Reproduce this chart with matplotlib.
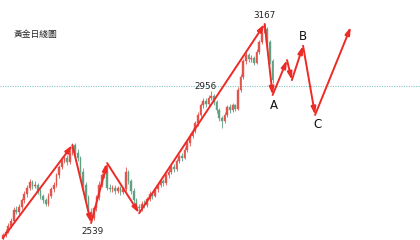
import matplotlib
matplotlib.use("Agg")
import matplotlib.pyplot as plt
from matplotlib.patches import Rectangle

# ── Data: daily candles (index 0..101) ───────────────────────────────────────
opens = [2490, 2500, 2512, 2530, 2545, 2580, 2575, 2590, 2610, 2630,
         2650, 2668, 2655, 2660, 2640, 2625, 2610, 2600, 2625, 2645,
         2660, 2690, 2715, 2735, 2745, 2730, 2760, 2785, 2760, 2745,
         2700, 2660, 2620, 2575, 2555, 2585, 2620, 2660, 2690, 2712,
         2650, 2645, 2650, 2640, 2648, 2638, 2645, 2700, 2670, 2640,
         2610, 2590, 2585, 2600, 2595, 2615, 2630, 2625, 2645, 2660,
         2670, 2665, 2690, 2700, 2715, 2710, 2735, 2750, 2745, 2770,
         2790, 2815, 2830, 2855, 2880, 2910, 2925, 2915, 2935, 2940,
         2920, 2895, 2870, 2860, 2880, 2905, 2895, 2910, 2900, 2960,
         3000, 3050, 3070, 3055, 3060, 3045, 3080, 3110, 3140, 3150,
         3110, 3050]
closes = [2500, 2512, 2530, 2545, 2580, 2575, 2590, 2610, 2630, 2650,
          2668, 2655, 2660, 2640, 2625, 2610, 2600, 2625, 2645, 2660,
          2690, 2715, 2735, 2745, 2730, 2760, 2785, 2760, 2745, 2700,
          2660, 2620, 2575, 2555, 2585, 2620, 2660, 2690, 2712, 2650,
          2645, 2650, 2640, 2648, 2638, 2645, 2700, 2670, 2640, 2610,
          2590, 2585, 2600, 2595, 2615, 2630, 2625, 2645, 2660, 2670,
          2665, 2690, 2700, 2715, 2710, 2735, 2750, 2745, 2770, 2790,
          2815, 2830, 2855, 2880, 2910, 2925, 2915, 2935, 2940, 2920,
          2895, 2870, 2860, 2880, 2905, 2895, 2910, 2900, 2960, 3000,
          3050, 3070, 3055, 3060, 3045, 3080, 3110, 3140, 3150, 3110,
          3050, 2990]
highs = [2508, 2520, 2538, 2556, 2590, 2592, 2600, 2618, 2640, 2660,
         2678, 2676, 2670, 2666, 2650, 2632, 2618, 2634, 2652, 2668,
         2698, 2722, 2744, 2755, 2752, 2768, 2792, 2790, 2772, 2750,
         2712, 2668, 2628, 2585, 2592, 2628, 2670, 2698, 2720, 2728,
         2662, 2660, 2658, 2656, 2655, 2654, 2716, 2706, 2678, 2648,
         2618, 2598, 2608, 2610, 2622, 2640, 2638, 2652, 2668, 2680,
         2678, 2698, 2710, 2722, 2724, 2742, 2758, 2760, 2778, 2798,
         2822, 2840, 2862, 2888, 2918, 2934, 2932, 2944, 2956, 2946,
         2928, 2902, 2876, 2888, 2912, 2914, 2918, 2916, 2968, 3010,
         3058, 3078, 3076, 3068, 3066, 3088, 3118, 3150, 3167, 3158,
         3116, 3058]
lows = [2484, 2494, 2506, 2522, 2538, 2566, 2568, 2584, 2602, 2622,
        2644, 2646, 2648, 2632, 2616, 2602, 2592, 2594, 2618, 2638,
        2654, 2682, 2708, 2728, 2722, 2724, 2752, 2752, 2736, 2692,
        2650, 2610, 2566, 2539, 2548, 2578, 2612, 2652, 2682, 2642,
        2636, 2638, 2630, 2634, 2628, 2630, 2640, 2662, 2632, 2602,
        2582, 2570, 2578, 2586, 2590, 2608, 2616, 2620, 2638, 2652,
        2656, 2660, 2682, 2694, 2700, 2704, 2728, 2736, 2740, 2762,
        2782, 2806, 2822, 2846, 2872, 2902, 2906, 2908, 2928, 2912,
        2886, 2862, 2839, 2854, 2874, 2886, 2888, 2892, 2894, 2952,
        2994, 3042, 3046, 3048, 3036, 3040, 3072, 3104, 3132, 3100,
        3042, 2980]

# wave path (pivots + projection), labels
wave_idx = [0, 26, 33, 39, 51, 98, 101, 106.4, 108.2, 112.4, 116.9, 130.3]
wave_price = [2492, 2785, 2539, 2728, 2570, 3167, 2943, 3053, 2990, 3098, 2880, 3158]
price_marks = [(98, 3167, "3167"), (78, 2956, "2956"), (33, 2539, "2539")]
wave_labels = [(6, "A"), (9, "B"), (10, "C")]
ref_level = 2971
title = "黃金日綫圖"

UP = "#e0564e"
DOWN = "#62a083"
ARROW = "#ec2a26"

fig = plt.figure(figsize=(4.2, 2.4), dpi=100)
ax = fig.add_axes([0, 0, 1, 1])
ax.set_xlim(-1.12, 156.2)
ax.set_ylim(2485.3, 3242.7)
ax.axis("off")

ax.axhline(ref_level, color="#86c6c2", ls=(0, (1, 1.2)), lw=0.8, zorder=1)

for i, (o, h, l, c) in enumerate(zip(opens, highs, lows, closes)):
    col = UP if c >= o else DOWN
    ax.vlines(i, l, h, color=col, lw=0.6, zorder=2)
    ax.add_patch(Rectangle((i - 0.32, min(o, c)), 0.64, max(abs(c - o), 1.5),
                           facecolor=col, edgecolor=col, lw=0.3, zorder=2))

for k in range(len(wave_idx) - 1):
    ax.annotate("", xy=(wave_idx[k + 1], wave_price[k + 1]),
                xytext=(wave_idx[k], wave_price[k]),
                arrowprops=dict(arrowstyle="-|>,head_length=0.45,head_width=0.14",
                                color=ARROW, lw=1.4, shrinkA=0, shrinkB=0),
                zorder=4)

ax.annotate(price_marks[0][2], (price_marks[0][0], price_marks[0][1]),
            xytext=(0, 3), textcoords="offset points",
            ha="center", va="bottom", fontsize=6.3, color="#222222")
ax.annotate(price_marks[1][2], (price_marks[1][0], price_marks[1][1]),
            xytext=(-4, 0), textcoords="offset points",
            ha="center", va="bottom", fontsize=6.3, color="#222222")
ax.annotate(price_marks[2][2], (price_marks[2][0], price_marks[2][1]),
            xytext=(1, -3), textcoords="offset points",
            ha="center", va="top", fontsize=6.3, color="#222222")

offsets = {"A": (1, -3, "top"), "B": (0, 2, "bottom"), "C": (2, -2, "top")}
for k, lab in wave_labels:
    dx, dy, va = offsets[lab]
    ax.annotate(lab, (wave_idx[k], wave_price[k]), xytext=(dx, dy),
                textcoords="offset points", ha="center", va=va,
                fontsize=8.5, color="#111111")

fig.text(14 / 420, 1 - 34 / 240, title, fontsize=6.3, va="center", ha="left",
         family=["Noto Sans CJK TC", "DejaVu Sans"], color="#222222")

fig.savefig("out.png", dpi=100, facecolor="white")
